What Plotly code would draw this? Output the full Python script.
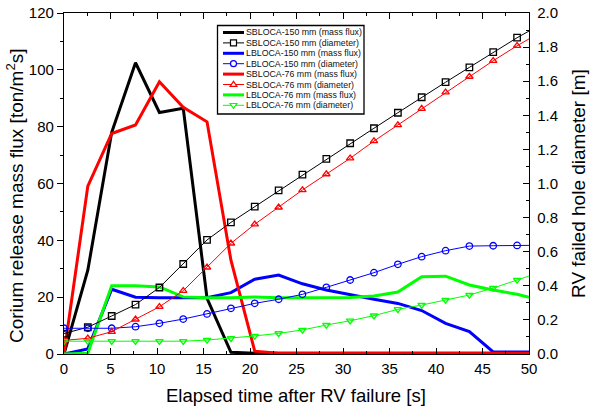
import plotly.graph_objects as go

# ---------------- data ----------------
time_s = [0, 2.56, 5.13, 7.69, 10.26, 12.82, 15.38, 17.95, 20.51, 23.08, 25.64,
          28.21, 30.77, 33.33, 35.90, 38.46, 41.03, 43.59, 46.15, 48.72, 50]

sb150_flux = [0, 29.5, 78.0, 102.5, 85.0, 86.5, 19.6, 0.6, 0.3, 0.3, 0.3,
              0.3, 0.3, 0.3, 0.3, 0.3, 0.3, 0.3, 0.3, 0.3, 0.3]
sb150_diam = [0.12, 0.157, 0.223, 0.29, 0.39, 0.528, 0.669, 0.772, 0.864, 0.96, 1.052,
              1.144, 1.236, 1.324, 1.415, 1.506, 1.594, 1.681, 1.77, 1.855, 1.894]

lb150_flux = [0, 1.8, 22.8, 20.0, 19.8, 19.8, 19.8, 21.6, 26.3, 27.8, 24.7,
              22.5, 20.8, 19.3, 17.8, 15.3, 10.8, 7.9, 0.7, 0.7, 0.7]
lb150_diam = [0.151, 0.151, 0.151, 0.160, 0.18, 0.205, 0.235, 0.268, 0.297, 0.321, 0.35,
              0.391, 0.434, 0.477, 0.526, 0.571, 0.606, 0.633, 0.635, 0.637, 0.637]

sb76_flux = [0, 59.1, 77.6, 80.6, 95.8, 86.8, 81.7, 33.0, 1.0, 0.3, 0.3,
             0.3, 0.3, 0.3, 0.3, 0.3, 0.3, 0.3, 0.3, 0.3, 0.3]
sb76_diam = [0.08, 0.092, 0.131, 0.203, 0.277, 0.371, 0.508, 0.649, 0.761, 0.86, 0.962,
             1.055, 1.148, 1.249, 1.343, 1.439, 1.535, 1.627, 1.72, 1.808, 1.848]

lb76_flux = [0, 0.3, 24.0, 24.0, 23.6, 20.1, 19.8, 19.8, 20.1, 19.8, 19.8,
             19.8, 19.9, 20.4, 21.8, 27.2, 27.4, 24.3, 22.5, 21.0, 20.0]
lb76_diam = [0.075, 0.075, 0.075, 0.075, 0.075, 0.075, 0.082, 0.092, 0.106, 0.121, 0.141,
             0.170, 0.195, 0.225, 0.262, 0.287, 0.317, 0.346, 0.387, 0.434, 0.457]

legend_labels = ["SBLOCA-150 mm (mass flux)", "SBLOCA-150 mm (diameter)",
                 "LBLOCA-150 mm (mass flux)", "LBLOCA-150 mm (diameter)",
                 "SBLOCA-76 mm (mass flux)", "SBLOCA-76 mm (diameter)",
                 "LBLOCA-76 mm (mass flux)", "LBLOCA-76 mm (diameter)"]

x_title = "Elapsed time after RV failure [s]"
y_title = "Corium release mass flux [ton/m<sup>2</sup>s]"
y2_title = "RV failed hole diameter [m]"

# ---------------- styles ----------------
BLACK, BLUE, RED, GREEN = "#000000", "#0000FF", "#FF0000", "#00FF00"
FONT = "Arial, Liberation Sans, sans-serif"

W, H = 592, 412
L, R, T, B = 64, 63, 13, 58
PW, PH = W - L - R, H - T - B

def px(x):
    return (x - L) / PW

def py(y):
    return (H - B - y) / PH

fig = go.Figure()

n = len(time_s)
mk_op = [1] * (n - 1) + [0]

series = [
    (sb150_flux, sb150_diam, BLACK, "square-open", 6.5),
    (lb150_flux, lb150_diam, BLUE, "circle-open", 6.5),
    (sb76_flux, sb76_diam, RED, "triangle-up-open", 6.5),
    (lb76_flux, lb76_diam, GREEN, "triangle-down-open", 6.5),
]

for i, (flux, diam, col, sym, sz) in enumerate(series):
    fig.add_trace(go.Scatter(x=time_s, y=flux, mode="lines",
                             line=dict(color=col, width=3),
                             name=legend_labels[2 * i], showlegend=False))
    fig.add_trace(go.Scatter(x=time_s, y=diam, mode="lines+markers", yaxis="y2",
                             line=dict(color=col, width=1),
                             marker=dict(symbol=sym, size=sz, color=col, opacity=mk_op,
                                         line=dict(color=col, width=1.3)),
                             name=legend_labels[2 * i + 1], showlegend=False))

# ---------------- custom legend ----------------
shapes = []
annotations = []
shapes.append(dict(type="rect", xref="paper", yref="paper",
                   x0=px(217.5), x1=px(364), y0=py(25.5), y1=py(114),
                   line=dict(color="black", width=1.3), fillcolor="white", layer="above"))
row0, drow = 32.5, 10.4
for i, lab in enumerate(legend_labels):
    ry = row0 + i * drow
    col = series[i // 2][2]
    is_flux = (i % 2 == 0)
    shapes.append(dict(type="line", xref="paper", yref="paper",
                       x0=px(223), x1=px(244), y0=py(ry), y1=py(ry),
                       line=dict(color=col, width=3 if is_flux else 1), layer="above"))
    if not is_flux:
        cx = 233.5
        sym = series[i // 2][3]
        if sym.startswith("square"):
            shapes.append(dict(type="rect", xref="paper", yref="paper",
                               x0=px(cx - 3), x1=px(cx + 3), y0=py(ry - 3), y1=py(ry + 3),
                               line=dict(color=col, width=1.2), fillcolor="white", layer="above"))
        elif sym.startswith("circle"):
            shapes.append(dict(type="circle", xref="paper", yref="paper",
                               x0=px(cx - 3), x1=px(cx + 3), y0=py(ry - 3), y1=py(ry + 3),
                               line=dict(color=col, width=1.2), fillcolor="white", layer="above"))
        elif sym.startswith("triangle-up"):
            path = "M{},{} L{},{} L{},{} Z".format(px(cx - 3.4), py(ry + 1.8), px(cx + 3.4), py(ry + 1.8),
                                                   px(cx), py(ry - 3.2))
            shapes.append(dict(type="path", xref="paper", yref="paper", path=path,
                               line=dict(color=col, width=1.2), fillcolor="white", layer="above"))
        else:
            path = "M{},{} L{},{} L{},{} Z".format(px(cx - 3.4), py(ry - 1.8), px(cx + 3.4), py(ry - 1.8),
                                                   px(cx), py(ry + 3.2))
            shapes.append(dict(type="path", xref="paper", yref="paper", path=path,
                               line=dict(color=col, width=1.2), fillcolor="white", layer="above"))
    annotations.append(dict(xref="paper", yref="paper", x=px(244), y=py(ry),
                            xanchor="left", yanchor="middle", showarrow=False,
                            text=lab, font=dict(family=FONT, size=8.8, color="#111111")))

# axis titles as annotations (precise placement)
annotations.append(dict(xref="paper", yref="paper", x=px(296), y=py(396),
                        xanchor="center", yanchor="middle", showarrow=False,
                        text=x_title, font=dict(family=FONT, size=18.5, color="black")))
annotations.append(dict(xref="paper", yref="paper", x=px(15), y=py(196),
                        xanchor="center", yanchor="middle", showarrow=False, textangle=-90,
                        text=y_title, font=dict(family=FONT, size=19, color="black")))
annotations.append(dict(xref="paper", yref="paper", x=px(578), y=py(184),
                        xanchor="center", yanchor="middle", showarrow=False, textangle=-90,
                        text=y2_title, font=dict(family=FONT, size=19, color="black")))

fig.update_layout(
    width=W, height=H,
    margin=dict(l=L, r=R, t=T, b=B, autoexpand=False),
    paper_bgcolor="white", plot_bgcolor="white",
    font=dict(family=FONT, color="black"),
    showlegend=False,
    shapes=shapes, annotations=annotations,
    xaxis=dict(range=[0, 50], dtick=5, tick0=0, showgrid=False, zeroline=False,
               showline=True, linecolor="black", linewidth=1.3, mirror="ticks",
               ticks="inside", ticklen=6, tickwidth=1, tickcolor="black",
               minor=dict(dtick=2.5, ticks="inside", ticklen=3, tickcolor="black"),
               tickfont=dict(size=15, family=FONT), automargin=False,
               ticklabelstandoff=1),
    yaxis=dict(range=[0, 120], dtick=20, showgrid=False, zeroline=False,
               showline=True, linecolor="black", linewidth=1.3,
               ticks="outside", ticklen=6, tickwidth=1, tickcolor="black",
               minor=dict(dtick=10, ticks="outside", ticklen=3, tickcolor="black"),
               tickfont=dict(size=15, family=FONT), automargin=False),
    yaxis2=dict(range=[0, 2.0], dtick=0.2, tickformat=".1f", overlaying="y", side="right",
                showgrid=False, zeroline=False,
                showline=True, linecolor="black", linewidth=1.3,
                ticks="inside", ticklen=6, tickwidth=1, tickcolor="black",
                minor=dict(dtick=0.1, ticks="inside", ticklen=3, tickcolor="black"),
                tickfont=dict(size=15, family=FONT), ticklabelstandoff=4, automargin=False),
)

fig.write_html("out.html", config={"displayModeBar": False},
               post_script="document.body.style.margin='0px';document.body.style.padding='0px';")
